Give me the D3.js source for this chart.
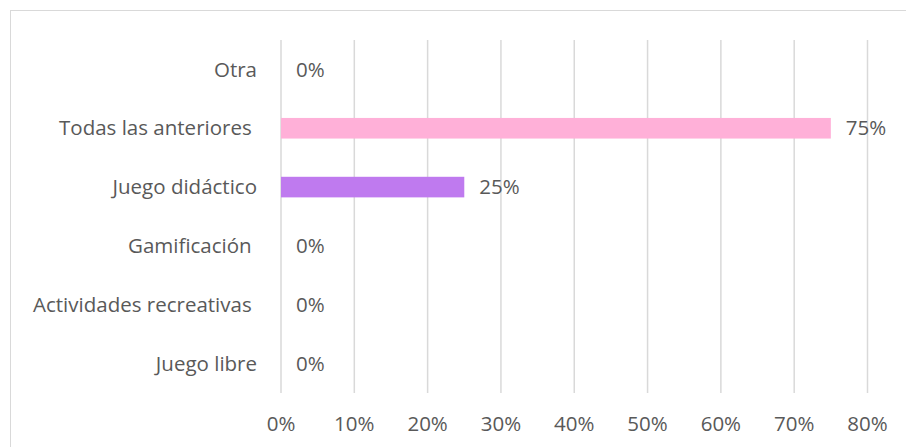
<!DOCTYPE html>
<html>
<head>
<meta charset="utf-8">
<script src="https://cdn.jsdelivr.net/npm/d3@7"></script>
<style>
    body { margin: 0; background: #fff; }
    svg text { font-family: "Open Sans", sans-serif; fill: #595959; }
</style>
</head>
<body>
<div id="chart"></div>
<script>
// categories from bottom to top, as in the source chart
const categories = ['Juego libre', 'Actividades recreativas ', 'Gamificación ', 'Juego didáctico', 'Todas las anteriores ', 'Otra']
const values = [0, 0, 0, 0.25, 0.75, 0]
const barColors = ['#ffb0d8', '#ffb0d8', '#ffb0d8', '#bf7aef', '#ffb0d8', '#ffb0d8']
const ticks = [0, 0.1, 0.2, 0.3, 0.4, 0.5, 0.6, 0.7, 0.8]

const width = 906, height = 447
const margin = { top: 40, right: 38, bottom: 54, left: 281 }
const fontSize = '20.5px'

const svg = d3.select('#chart').append('svg')
    .attr('width', width)
    .attr('height', height)

// outer chart frame
svg.append('rect')
    .attr('x', 10.5).attr('y', 10.5)
    .attr('width', width - 10).attr('height', height)
    .attr('fill', 'none')
    .attr('stroke', '#d9d9d9')
    .attr('stroke-width', 1)

const x = d3.scaleLinear()
    .domain([0, 0.8])
    .range([margin.left, width - margin.right - 0.5])

const y = d3.scaleBand()
    .domain(categories.slice().reverse())
    .range([margin.top, height - margin.bottom])
    .paddingInner(0.65)
    .paddingOuter(0.325)

// vertical gridlines
svg.append('g')
    .selectAll('line')
    .data(ticks)
    .join('line')
    .attr('x1', d => x(d)).attr('x2', d => x(d))
    .attr('y1', margin.top).attr('y2', height - margin.bottom)
    .attr('stroke', '#d9d9d9')
    .attr('stroke-width', 1.5)

// x tick labels
svg.append('g')
    .selectAll('text')
    .data(ticks)
    .join('text')
    .attr('x', d => x(d))
    .attr('y', 424)
    .attr('dy', '0.35em')
    .attr('text-anchor', 'middle')
    .attr('font-size', fontSize)
    .text(d => d3.format('.0%')(d))

// category labels
svg.append('g')
    .selectAll('text')
    .data(categories)
    .join('text')
    .attr('x', margin.left - 24)
    .attr('y', d => y(d) + y.bandwidth() / 2)
    .attr('dy', '0.35em')
    .attr('text-anchor', 'end')
    .attr('font-size', fontSize)
    .style('white-space', 'pre')
    .attr('xml:space', 'preserve')
    .text(d => d)

// bars
svg.append('g')
    .selectAll('rect')
    .data(categories)
    .join('rect')
    .attr('x', x(0))
    .attr('y', d => y(d))
    .attr('width', (d, i) => x(values[i]) - x(0))
    .attr('height', y.bandwidth())
    .attr('fill', (d, i) => barColors[i])

// value labels
svg.append('g')
    .selectAll('text')
    .data(categories)
    .join('text')
    .attr('x', (d, i) => x(values[i]) + 15)
    .attr('y', d => y(d) + y.bandwidth() / 2)
    .attr('dy', '0.35em')
    .attr('font-size', fontSize)
    .text((d, i) => d3.format('.0%')(values[i]))
</script>
</body>
</html>
